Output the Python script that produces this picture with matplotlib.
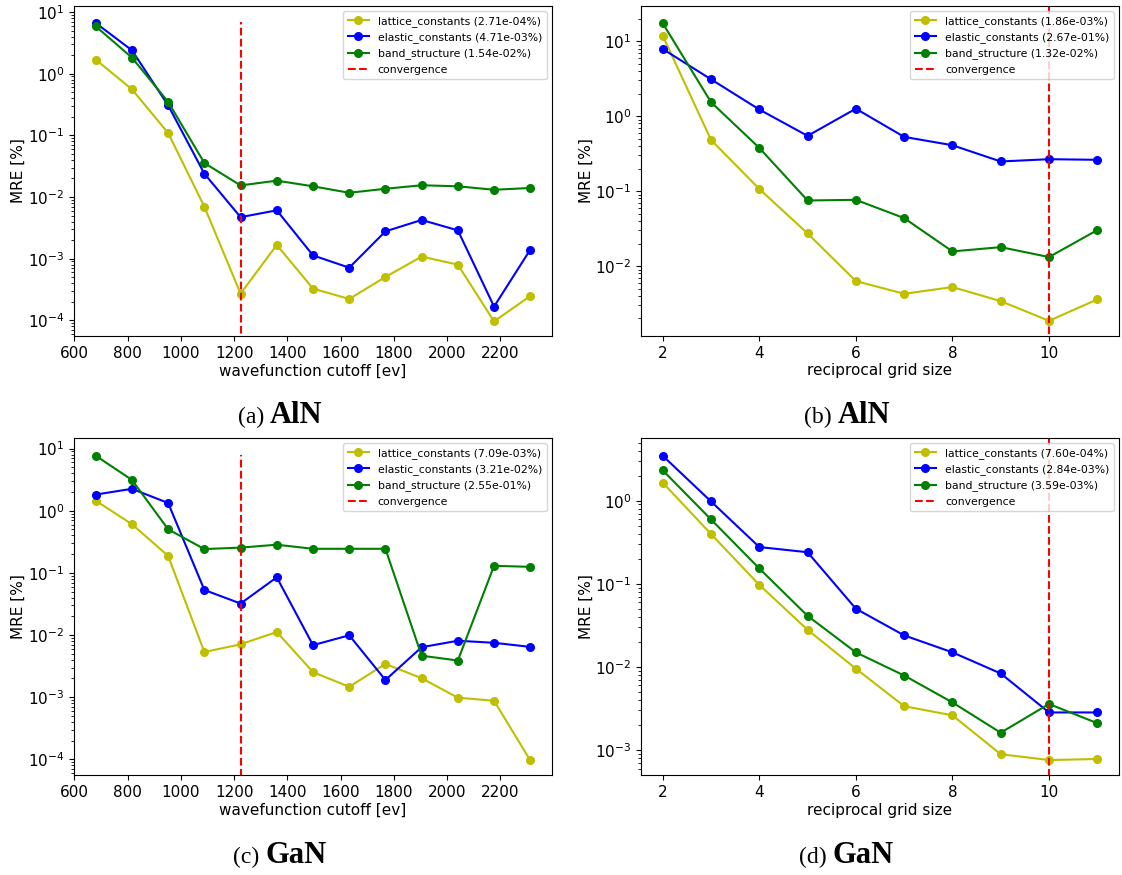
import matplotlib
matplotlib.use("Agg")
import matplotlib.pyplot as plt
import numpy as np

# ---------------- data ----------------
cutoff = [680, 816, 952, 1088, 1224, 1360, 1496, 1632, 1768, 1904, 2040, 2176, 2312]
grid = [2, 3, 4, 5, 6, 7, 8, 9, 10, 11]

aln_cut_lattice = [1.69, 0.557, 0.109, 6.97e-3, 2.71e-4, 1.67e-3, 3.27e-4, 2.22e-4, 5.05e-4, 1.08e-3, 8.0e-4, 9.6e-5, 2.48e-4]
aln_cut_elastic = [6.63, 2.39, 0.306, 0.0239, 4.71e-3, 6.08e-3, 1.13e-3, 7.14e-4, 2.77e-3, 4.24e-3, 2.88e-3, 1.67e-4, 1.40e-3]
aln_cut_band = [5.86, 1.82, 0.348, 0.0356, 1.54e-2, 0.0184, 0.0149, 0.0117, 0.0136, 0.0155, 0.0149, 0.0131, 0.0140]

aln_grid_lattice = [11.9, 0.483, 0.107, 0.0273, 6.31e-3, 4.27e-3, 5.25e-3, 3.41e-3, 1.86e-3, 3.59e-3]
aln_grid_elastic = [7.9, 3.11, 1.23, 0.547, 1.26, 0.530, 0.410, 0.249, 0.267, 0.262]
aln_grid_band = [17.4, 1.54, 0.378, 0.0751, 0.0766, 0.0437, 0.0157, 0.0179, 1.32e-2, 0.0302]

gan_cut_lattice = [1.45, 0.607, 0.1875, 5.33e-3, 7.09e-3, 0.0112, 2.53e-3, 1.47e-3, 3.43e-3, 2.02e-3, 9.8e-4, 8.77e-4, 9.6e-5]
gan_cut_elastic = [1.82, 2.25, 1.33, 0.0531, 3.21e-2, 0.0848, 6.87e-3, 9.9e-3, 1.89e-3, 6.37e-3, 8.09e-3, 7.5e-3, 6.44e-3]
gan_cut_band = [7.67, 3.13, 0.502, 0.2416, 0.255, 0.284, 0.244, 0.244, 0.244, 4.65e-3, 3.89e-3, 0.130, 0.125]

gan_grid_lattice = [1.65, 0.397, 0.0972, 0.028, 9.54e-3, 3.38e-3, 2.62e-3, 8.93e-4, 7.60e-4, 7.82e-4]
gan_grid_elastic = [3.47, 0.98, 0.277, 0.240, 0.0502, 0.024, 0.015, 8.36e-3, 2.84e-3, 2.84e-3]
gan_grid_band = [2.32, 0.595, 0.153, 0.0412, 0.015, 7.9e-3, 3.75e-3, 1.62e-3, 3.59e-3, 2.11e-3]

series_names = ["lattice_constants", "elastic_constants", "band_structure"]
conv_cutoff = 1224
conv_grid = 10
cut_xlabel = "wavefunction cutoff [ev]"
grid_xlabel = "reciprocal grid size"
ylabel = "MRE [%]"

# ---------------- figure ----------------
W, H = 1122, 875
fig = plt.figure(figsize=(W / 100, H / 100), dpi=100)
plt.rcParams['font.family'] = ['DejaVu Sans']


def px_axes(l, t, r, b):
    return fig.add_axes([l / W, 1 - b / H, (r - l) / W, (b - t) / H])


panels = [
    dict(box=(74, 6, 552, 336), x=cutoff, ys=[aln_cut_lattice, aln_cut_elastic, aln_cut_band],
         conv=conv_cutoff, xlabel=cut_xlabel, ylim=(10 ** -4.254, 10 ** 1.097), vtop=6.9,
         xticks=list(range(600, 2201, 200)), label="(a)", mat="AlN", cx=280, cy=413),
    dict(box=(641, 6, 1119, 336), x=grid, ys=[aln_grid_lattice, aln_grid_elastic, aln_grid_band],
         conv=conv_grid, xlabel=grid_xlabel, ylim=(10 ** -2.933, 10 ** 1.471), vtop=100,
         xticks=[2, 4, 6, 8, 10], label="(b)", mat="AlN", cx=847, cy=413),
    dict(box=(74, 438, 552, 775), x=cutoff, ys=[gan_cut_lattice, gan_cut_elastic, gan_cut_band],
         conv=conv_cutoff, xlabel=cut_xlabel, ylim=(10 ** -4.252, 10 ** 1.17), vtop=8.0,
         xticks=list(range(600, 2201, 200)), label="(c)", mat="GaN", cx=280, cy=853),
    dict(box=(641, 438, 1119, 775), x=grid, ys=[gan_grid_lattice, gan_grid_elastic, gan_grid_band],
         conv=conv_grid, xlabel=grid_xlabel, ylim=(10 ** -3.299, 10 ** 0.754), vtop=100,
         xticks=[2, 4, 6, 8, 10], label="(d)", mat="GaN", cx=846, cy=853),
]

colors = ['y', 'b', 'g']
for p in panels:
    ax = px_axes(*p['box'])
    for name, yv, c in zip(series_names, p['ys'], colors):
        idx = p['x'].index(p['conv'])
        ax.plot(p['x'], yv, '-o', color=c, ms=5.5, lw=1.5,
                label=f"{name} ({yv[idx]:.2e}%)")
    ax.vlines(p['conv'], 1e-6, p['vtop'], colors='r', linestyles='--', lw=1.5, label='convergence')
    ax.set_yscale('log')
    ax.set_ylim(*p['ylim'])
    ax.set_xticks(p['xticks'])
    ax.set_xlabel(p['xlabel'], fontsize=11, labelpad=2)
    ax.set_ylabel(ylabel, fontsize=11, labelpad=1)
    ax.tick_params(labelsize=11)
    ax.legend(loc='upper right', fontsize=7.8)

fig.canvas.draw()
r = fig.canvas.get_renderer()
for p in panels:
    t1 = fig.text(0, 0, p['label'] + " ", fontsize=17, family='Liberation Serif',
                  va='baseline', ha='left')
    t2 = fig.text(0, 0, p['mat'], fontsize=22, family='Liberation Serif',
                  weight='bold', va='baseline', ha='left')
    w1 = t1.get_window_extent(r).width
    w2 = t2.get_window_extent(r).width
    x0 = p['cx'] - (w1 + w2) / 2
    ybase = 1 - (p['cy'] + 10) / H
    t1.set_position((x0 / W, ybase))
    t2.set_position(((x0 + w1) / W, ybase))

fig.savefig("out.png", dpi=100)
